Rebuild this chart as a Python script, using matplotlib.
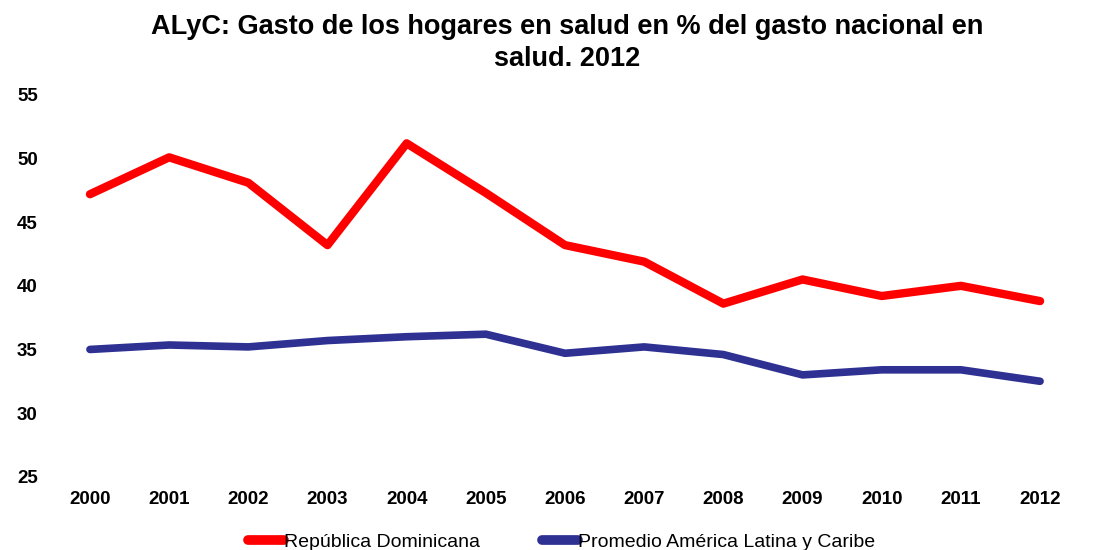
import matplotlib
matplotlib.use("Agg")
import matplotlib.pyplot as plt

plt.rcParams['font.family'] = ['Liberation Sans', 'DejaVu Sans']

years = ['2000', '2001', '2002', '2003', '2004', '2005', '2006',
         '2007', '2008', '2009', '2010', '2011', '2012']
rep_dominicana = [47.2, 50.1, 48.1, 43.2, 51.2, 47.3, 43.2,
                  41.9, 38.6, 40.5, 39.2, 40.0, 38.8]
promedio_alyc = [35.0, 35.35, 35.2, 35.7, 36.0, 36.2, 34.7,
                 35.2, 34.6, 33.0, 33.4, 33.4, 32.5]

fig = plt.figure(figsize=(10.95, 5.5), dpi=100)
ax = fig.add_axes([0.046, 0.1333, 0.94, 0.694])

x = range(len(years))
ax.plot(x, rep_dominicana, color='#FF0000', lw=6, solid_capstyle='round',
        solid_joinstyle='round', label='República Dominicana')
ax.plot(x, promedio_alyc, color='#2E3192', lw=5.5, solid_capstyle='round',
        solid_joinstyle='round', label='Promedio América Latina y Caribe')

ax.set_xlim(-0.5, len(years) - 0.5)
ax.set_ylim(25, 55)
ax.set_yticks([25, 30, 35, 40, 45, 50, 55])
ax.set_xticks(list(x))
ax.set_xticklabels(years)
for s in ax.spines.values():
    s.set_visible(False)
ax.tick_params(length=0, labelsize=13.5, pad=10)
ax.tick_params(axis='y', pad=9)
for lbl in ax.get_xticklabels() + ax.get_yticklabels():
    lbl.set_fontweight('bold')

fig.text(0.518, 0.975, 'ALyC: Gasto de los hogares en salud en % del gasto nacional en\nsalud. 2012',
         ha='center', va='top', fontsize=19.5, fontweight='bold', linespacing=1.32)

leg = fig.legend(loc='lower center', bbox_to_anchor=(0.513, -0.034), ncol=2, frameon=False,
                 fontsize=14, handlelength=1.85, handletextpad=0.0, columnspacing=3.2)
for h in leg.legend_handles:
    h.set_linewidth(7)

fig.savefig('out.png', dpi=100)
